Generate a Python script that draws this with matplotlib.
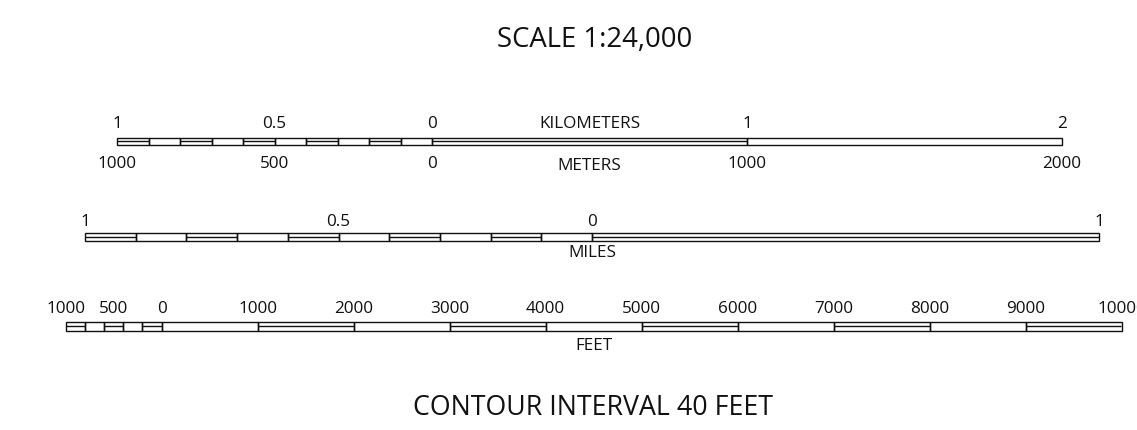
import matplotlib
matplotlib.use("Agg")
import matplotlib.pyplot as plt
from matplotlib.patches import Rectangle

plt.rcParams['font.family'] = ['Open Sans', 'DejaVu Sans']

# ---------------- data ----------------
title = "SCALE 1:24,000"
footer = "CONTOUR INTERVAL 40 FEET"

# kilometre / metre bar (units: metres)
km_edges = [-1000, -900, -800, -700, -600, -500, -400, -300, -200, -100, 0, 1000, 2000]
km_midline = [1, 0, 1, 0, 1, 0, 1, 0, 1, 0, 1, 0]
km_tick_pos = [-1000, -500, 0, 1000, 2000]
km_top_labels = ["1", "0.5", "0", "1", "2"]
m_bottom_labels = ["1000", "500", "0", "1000", "2000"]
km_unit_top = ("KILOMETERS", 500)
km_unit_bottom = ("METERS", 500)

# mile bar (units: miles)
mi_edges = [-1.0, -0.9, -0.8, -0.7, -0.6, -0.5, -0.4, -0.3, -0.2, -0.1, 0.0, 1.0]
mi_midline = [1, 0, 1, 0, 1, 0, 1, 0, 1, 0, 1]
mi_tick_pos = [-1.0, -0.5, 0.0, 1.0]
mi_labels = ["1", "0.5", "0", "1"]
mi_unit = ("MILES", 0.0)

# feet bar (units: feet)
ft_edges = [-1000, -800, -600, -400, -200, 0, 1000, 2000, 3000, 4000, 5000,
            6000, 7000, 8000, 9000, 10000]
ft_midline = [1, 0, 1, 0, 1, 0, 1, 0, 1, 0, 1, 0, 1, 0, 1]
ft_tick_pos = [-1000, -500, 0, 1000, 2000, 3000, 4000, 5000, 6000, 7000, 8000, 9000, 10000]
ft_labels = ["1000", "500", "0", "1000", "2000", "3000", "4000", "5000", "6000",
             "7000", "8000", "9000", "10000"]
ft_unit = ("FEET", 4500)

# ---------------- layout ----------------
W, H = 1137, 430
fig = plt.figure(figsize=(W / 100, H / 100), dpi=100)
fig.patch.set_facecolor("white")

LW = 1.0
COL = "#111111"
FS = 12.3


def bar_axes(px_left, px_right, x0, x1):
    ax = fig.add_axes([px_left / W, 0, (px_right - px_left) / W, 1])
    ax.set_xlim(x0, x1)
    ax.set_ylim(H, 0)
    ax.axis("off")
    return ax


def draw_bar(ax, edges, mids, top, bottom):
    mid = (top + bottom) / 2
    for i in range(len(edges) - 1):
        a, b = edges[i], edges[i + 1]
        ax.add_patch(Rectangle((a, top), b - a, bottom - top, fill=False,
                               lw=LW, ec=COL, clip_on=False))
        if mids[i]:
            ax.plot([a, b], [mid, mid], lw=LW, color=COL, clip_on=False,
                    solid_capstyle="butt")


def labels(ax, pos, texts, y):
    for p, t in zip(pos, texts):
        ax.text(p, y, t, ha="center", va="baseline", fontsize=FS, color=COL,
                clip_on=False)


# title / footer
fig.text(594.5 / W, 1 - 47 / H, title, ha="center", va="baseline", fontsize=19.8, color=COL)
fig.text(593 / W, 1 - 415 / H, footer, ha="center", va="baseline", fontsize=19.3, color=COL)

# km bar
ax_km = bar_axes(117, 1062, km_edges[0], km_edges[-1])
draw_bar(ax_km, km_edges, km_midline, 137.5, 145)
labels(ax_km, km_tick_pos, km_top_labels, 127.5)
labels(ax_km, km_tick_pos, m_bottom_labels, 168.5)
ax_km.text(km_unit_top[1], 127.5, km_unit_top[0], ha="center", va="baseline", fontsize=FS, color=COL)
ax_km.text(km_unit_bottom[1], 170.5, km_unit_bottom[0], ha="center", va="baseline", fontsize=FS, color=COL)

# mile bar
ax_mi = bar_axes(85, 1099, mi_edges[0], mi_edges[-1])
draw_bar(ax_mi, mi_edges, mi_midline, 233, 241)
labels(ax_mi, mi_tick_pos, mi_labels, 225.5)
ax_mi.text(mi_unit[1], 257, mi_unit[0], ha="center", va="baseline", fontsize=FS, color=COL)

# feet bar
ax_ft = bar_axes(65.7, 1121.5, ft_edges[0], ft_edges[-1])
draw_bar(ax_ft, ft_edges, ft_midline, 322, 330.5)
labels(ax_ft, ft_tick_pos, ft_labels, 313)
ax_ft.text(ft_unit[1], 349.5, ft_unit[0], ha="center", va="baseline", fontsize=FS, color=COL)

fig.savefig("out.png", dpi=100, facecolor="white")
